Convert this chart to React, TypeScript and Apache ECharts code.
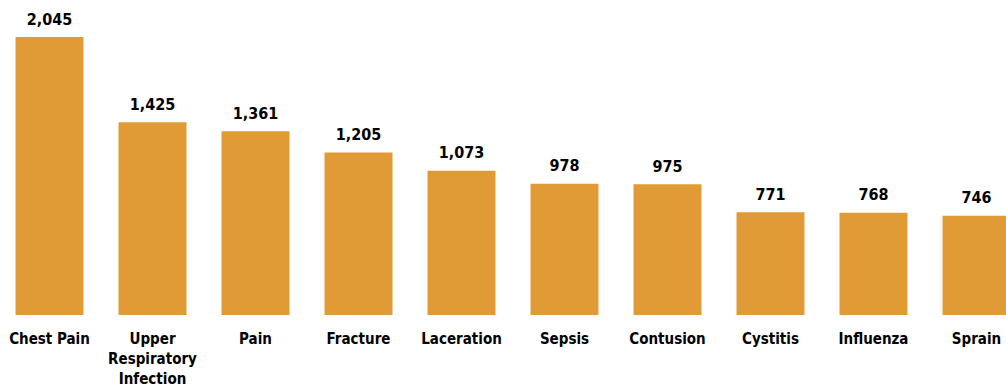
import React, { useEffect, useRef } from "react";
import * as echarts from "echarts";

const categories = ["Chest Pain", "Upper\nRespiratory\nInfection", "Pain", "Fracture", "Laceration", "Sepsis", "Contusion", "Cystitis", "Influenza", "Sprain"];
const values = [2045, 1425, 1361, 1205, 1073, 978, 975, 771, 768, 746];

const FONT = "'DejaVu Sans Condensed', 'Liberation Sans Narrow', 'Liberation Sans', Arial, sans-serif";

export default function App() {
  const ref = useRef<HTMLDivElement>(null);
  useEffect(() => {
    const chart = echarts.init(ref.current!, null, { renderer: "svg" });
    chart.setOption({
      animation: false,
      grid: { left: 0, right: 0, top: 37, bottom: 72, containLabel: false, outerBoundsMode: "none" },
      xAxis: {
        type: "category",
        data: categories,
        axisLine: { show: false },
        axisTick: { show: false },
        axisLabel: {
          interval: 0,
          margin: 14,
          fontFamily: FONT,
          fontWeight: "bold",
          fontSize: 15,
          color: "#000",
          lineHeight: 20,
        },
      },
      yAxis: {
        type: "value",
        min: 25,
        max: 2045,
        show: false,
        splitLine: { show: false },
      },
      series: [
        {
          type: "bar",
          data: values,
          clip: true,
          barCategoryGap: "34%",
          itemStyle: { color: "#E09B36" },
          label: {
            show: true,
            position: "top",
            distance: 10,
            fontFamily: FONT,
            fontWeight: "bold",
            fontSize: 16,
            color: "#000",
            formatter: (p: any) => p.value.toLocaleString("en-US"),
          },
        },
      ],
    });
    return () => chart.dispose();
  }, []);
  return (
    <div style={{ position: "absolute", left: 0, top: 0, width: 1006, height: 387, overflow: "hidden" }}>
      <div ref={ref} style={{ position: "absolute", left: -2, top: 0, width: 1030, height: 387 }} />
    </div>
  );
}
